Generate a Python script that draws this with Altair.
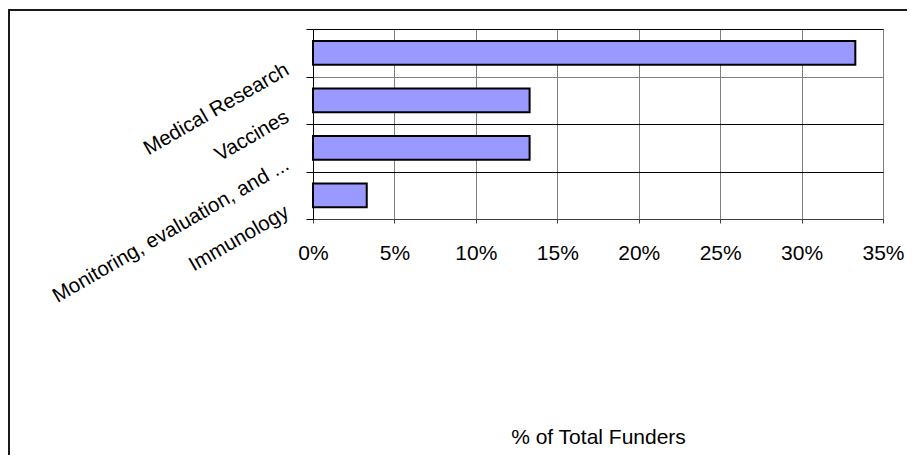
import altair as alt
import pandas as pd

categories = ["Medical Research", "Vaccines", "Monitoring, evaluation, and ...", "Immunology"]
values = [0.333, 0.133, 0.133, 0.033]
x_ticks = [0, 0.05, 0.10, 0.15, 0.20, 0.25, 0.30, 0.35]
x_title = "% of Total Funders"

df = pd.DataFrame({"category": categories, "share": values})
frame_df = pd.DataFrame({"k": [0]})

FONT = "Liberation Sans"

frame = alt.Chart(frame_df).mark_rect(
    fillOpacity=0, stroke="#1a1a1a", strokeWidth=2, clip=False
).encode(
    x=alt.value(-304), x2=alt.value(700), y=alt.value(-19), y2=alt.value(500)
)

bars = alt.Chart(df).mark_bar(
    color="#9999FF", stroke="black", strokeWidth=2,
    height=alt.RelativeBandSize(0.5)
).encode(
    x=alt.X(
        "share:Q",
        scale=alt.Scale(domain=[0, 0.35], nice=False),
        axis=alt.Axis(
            values=x_ticks, format=".0%", title=x_title,
            labelFont=FONT, labelFontSize=21, labelColor="black",
            labelFlush=False, labelOverlap=False,
            labelBaseline="alphabetic", labelPadding=36,
            tickSize=4, tickColor="#404040", domainColor="#404040",
            gridColor="#808080", grid=True,
            titleFont=FONT, titleFontSize=21, titleFontWeight="normal",
            titleColor="black", titleY=224, titleBaseline="alphabetic",
        ),
    ),
    y=alt.Y(
        "category:N", sort=categories,
        scale=alt.Scale(paddingInner=0, paddingOuter=0),
        axis=alt.Axis(
            title=None, tickBand="extent", grid=True,
            gridColor=alt.condition(
                "datum.value === 'Medical Research' && !datum.extra",
                alt.value("#808080"), alt.value("black"),
            ),
            domainColor="black", tickColor="black", tickSize=7,
            labelFont=FONT, labelFontSize=20.5, labelColor="black",
            labelAngle=330, labelAlign="right", labelBaseline="middle",
            labelPadding=19, labelOffset=15, labelLimit=400,
        ),
    ),
)

chart = alt.layer(frame, bars).properties(
    width=570, height=190,
    autosize=alt.AutoSizeParams(type="none"),
    padding={"left": 305, "top": 21, "right": 24, "bottom": 236},
).configure_view(stroke="#808080", strokeWidth=1)

chart.save("out.html", embed_options={"renderer": "svg", "actions": False})
